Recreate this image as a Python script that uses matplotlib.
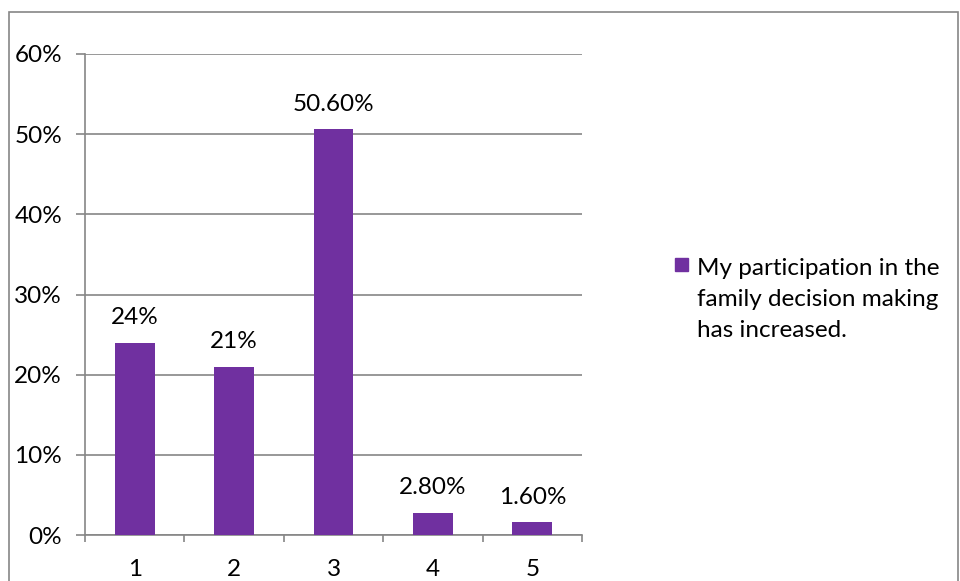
import matplotlib
matplotlib.use("Agg")
import matplotlib.pyplot as plt
from matplotlib.patches import Rectangle
from matplotlib.ticker import FixedLocator, FuncFormatter

plt.rcParams['font.family'] = ['Lato', 'DejaVu Sans']

# survey answers, share of respondents per scale point
categories = ["1", "2", "3", "4", "5"]
shares = [24.0, 21.0, 50.6, 2.8, 1.6]
value_labels = ["24%", "21%", "50.60%", "2.80%", "1.60%"]
series_name = "My participation in the\nfamily decision making\nhas increased."
y_ticks = [0, 10, 20, 30, 40, 50, 60]

bar_color = "#7030A0"
grid_color = "#868686"
fs = 17.5

fig = plt.figure(figsize=(9.6, 5.81), dpi=100)
ax = fig.add_axes([85 / 960, 46 / 581, 497 / 960, 481 / 581])

x = list(range(len(categories)))
ax.bar(x, shares, width=0.4, color=bar_color, zorder=3)

for xi, v, lab in zip(x, shares, value_labels):
    ax.annotate(lab, (xi, v), xytext=(0, 10.5), textcoords="offset points",
                ha="center", va="bottom", fontsize=fs, color="black")

ax.set_xlim(-0.5, len(categories) - 0.5)
ax.set_ylim(0, 60)
ax.set_yticks(y_ticks)
ax.yaxis.set_major_formatter(FuncFormatter(lambda v, p: f"{v:.0f}%"))
ax.set_xticks(x)
ax.set_xticklabels(categories)
ax.xaxis.set_minor_locator(FixedLocator([i - 0.5 for i in range(len(categories) + 1)]))

ax.tick_params(axis="x", which="major", length=0, pad=17, labelsize=fs)
ax.tick_params(axis="x", which="minor", length=5, width=1.2, color=grid_color)
ax.tick_params(axis="y", length=6.5, width=1.2, color=grid_color, pad=10, labelsize=fs)

ax.grid(axis="y", color=grid_color, linewidth=1.2, zorder=0)
for side in ["top", "right"]:
    ax.spines[side].set_visible(False)
for side in ["left", "bottom"]:
    ax.spines[side].set_color(grid_color)
    ax.spines[side].set_linewidth(1.2)

# legend drawn by hand so the swatch sits beside the first line
fig.patches.append(Rectangle((675 / 960, 1 - 271 / 581), 13 / 960, 13 / 581,
                             transform=fig.transFigure, color=bar_color))
fig.text(697 / 960, 1 - 258 / 581, series_name, ha="left", va="top",
         fontsize=fs, linespacing=1.6)

# outer chart border
fig.patches.append(Rectangle((9 / 960, -0.05), 949 / 960, 1 - 12 / 581 + 0.05,
                             transform=fig.transFigure, fill=False,
                             edgecolor=grid_color, linewidth=1.2))

fig.savefig("out.png", dpi=100)
